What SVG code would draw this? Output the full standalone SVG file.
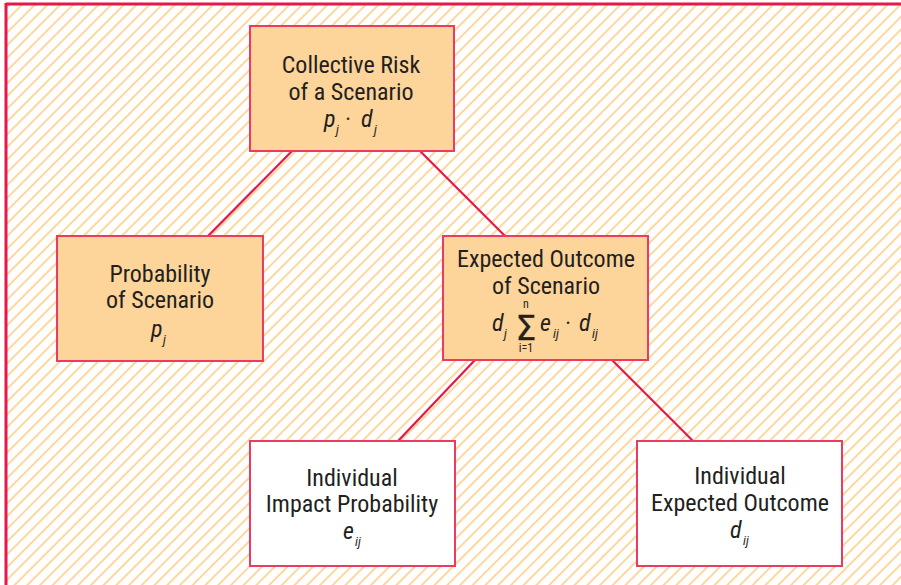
<svg xmlns="http://www.w3.org/2000/svg" width="901" height="585" viewBox="0 0 901 585">
<defs>
<pattern id="hatch" patternUnits="userSpaceOnUse" width="9" height="10" patternTransform="rotate(45)">
<line x1="1" y1="0" x2="1" y2="10" stroke="#fdd394" stroke-width="1.8"/>
</pattern>
<style>
.box{stroke:#ec3a62;stroke-width:2}
.fill{fill:#fdd49a}
.white{fill:#ffffff}
.t{font-family:"Liberation Sans Narrow","Roboto Condensed","DejaVu Sans Condensed","Liberation Sans",sans-serif;font-size:24px;fill:#231f20;text-anchor:middle}
.m{font-family:"Liberation Sans Narrow","Roboto Condensed","DejaVu Sans Condensed","Liberation Sans",sans-serif;font-style:italic;font-size:24px;fill:#231f20}
.s{font-family:"Liberation Sans Narrow","Roboto Condensed","DejaVu Sans Condensed","Liberation Sans",sans-serif;font-style:italic;font-size:13px;fill:#231f20}
.u{font-family:"Liberation Sans Narrow","Roboto Condensed","DejaVu Sans Condensed","Liberation Sans",sans-serif;font-size:12px;fill:#231f20;text-anchor:middle}
.c{stroke:#e8174a;stroke-width:2.2;fill:none}
</style>
</defs>
<rect x="0" y="0" width="901" height="585" fill="#ffffff"/>
<rect x="6" y="4" width="895" height="581" fill="url(#hatch)"/>
<line x1="6" y1="4" x2="901" y2="4" stroke="#e8174a" stroke-width="3"/>
<line x1="6" y1="3" x2="6" y2="585" stroke="#e8174a" stroke-width="3"/>
<g id="connectors">
<line class="c" x1="292" y1="151" x2="208" y2="236"/>
<line class="c" x1="420" y1="151" x2="505" y2="236"/>
<line class="c" x1="475" y1="360" x2="398" y2="441"/>
<line class="c" x1="612" y1="360" x2="693" y2="441"/>
</g>
<g id="collective-risk">
<rect class="box fill" x="250" y="26" width="204" height="125"/>
<text class="t" x="351" y="73">Collective Risk</text>
<text class="t" x="351" y="100">of a Scenario</text>
<text class="m" x="324" y="127">p</text><text class="s" x="336" y="134">j</text>
<text class="m" x="345" y="127" font-style="normal">·</text>
<text class="m" x="361" y="127">d</text><text class="s" x="374" y="134">j</text>
</g>
<g id="probability">
<rect class="box fill" x="57" y="236" width="206" height="125"/>
<text class="t" x="160" y="282">Probability</text>
<text class="t" x="160" y="308">of Scenario</text>
<text class="m" x="151" y="337">p</text><text class="s" x="163" y="344">j</text>
</g>
<g id="expected-outcome">
<rect class="box fill" x="443" y="236" width="205" height="124"/>
<text class="t" x="546" y="267">Expected Outcome</text>
<text class="t" x="546" y="294">of Scenario</text>
<text class="m" x="492" y="331">d</text><text class="s" x="504" y="338">j</text>
<text x="526" y="340" font-family="'DejaVu Sans',sans-serif" font-size="33" fill="#231f20" stroke="#231f20" stroke-width="0.4" text-anchor="middle">Σ</text>
<text class="u" x="526" y="308">n</text>
<text class="u" x="526" y="352">i=1</text>
<text class="m" x="540" y="331">e</text><text class="s" x="553" y="338">ij</text>
<text class="m" x="565" y="331" font-style="normal">·</text>
<text class="m" x="579" y="331">d</text><text class="s" x="592" y="338">ij</text>
</g>
<g id="individual-impact">
<rect class="box white" x="250" y="441" width="205" height="125"/>
<text class="t" x="352" y="486">Individual</text>
<text class="t" x="352" y="512">Impact Probability</text>
<text class="m" x="343" y="539">e</text><text class="s" x="355" y="546">ij</text>
</g>
<g id="individual-expected">
<rect class="box white" x="637" y="441" width="205" height="125"/>
<text class="t" x="740" y="484">Individual</text>
<text class="t" x="740" y="511">Expected Outcome</text>
<text class="m" x="730" y="538">d</text><text class="s" x="743" y="545">ij</text>
</g>
</svg>
